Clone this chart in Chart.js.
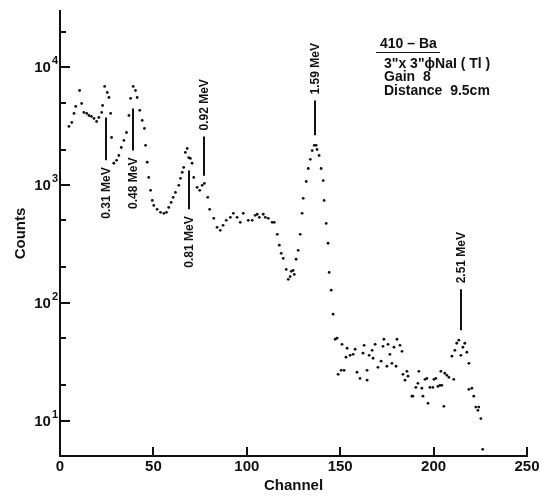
<!DOCTYPE html>
<html>
<head>
<meta charset="utf-8">
<script src="https://cdn.jsdelivr.net/npm/chart.js@4"></script>
<style>
    body { margin: 0; background: #fff; }
    #wrap { position: relative; width: 551px; height: 498px; }
    #info {
        position: absolute;
        left: 384px;
        top: 37px;
        font: bold 14px 'Liberation Sans', Arial, sans-serif;
        line-height: 13.5px;
        color: #111;
    }
    #info .title {
        display: inline-block;
        border-bottom: 1.5px solid #111;
        padding: 0 3px 1px 4px;
        margin-left: -8px;
        margin-bottom: 4px;
    }
</style>
</head>
<body>
<div id="wrap">
    <canvas id="spectrum" width="551" height="498"></canvas>
    <div id="info">
        <div class="title">410 – Ba</div>
        <div>3"x 3"ϕNaI ( Tl )</div>
        <div>Gain&nbsp; 8</div>
        <div>Distance&nbsp; 9.5cm</div>
    </div>
</div>
<script>
// spectrum points (channel, counts)
const channels = [
    4.8, 6.3, 7.5, 8.4, 10.5, 11.6, 12.8, 14.3, 15.5, 16.8,
    18.2, 19.6, 20.8, 22.3, 22.8, 23.9, 25.3, 26.2, 27.1, 27.6,
    28.8, 30.3, 31.5, 32.8, 34.2, 35.6, 36.9, 37.8, 39.2, 40.4,
    41.3, 42.7, 44.0, 45.2, 45.8, 46.7, 47.5, 48.5, 49.4, 50.2,
    52.0, 53.8, 55.6, 57.0, 58.2, 59.5, 60.6, 61.8, 63.6, 64.5,
    65.4, 66.2, 67.1, 68.1, 68.9, 69.8, 70.7, 71.6, 73.4, 74.8,
    76.1, 77.3, 79.1, 80.1, 82.3, 84.1, 85.8, 87.3, 89.0, 91.2,
    92.8, 94.8, 96.5, 98.1, 100.8, 102.9, 104.5, 105.6, 106.7, 108.8,
    109.9, 111.5, 113.6, 114.7, 116.3, 117.4, 118.4, 119.5, 121.1, 122.2,
    123.2, 123.8, 124.8, 125.4, 126.4, 127.5, 128.6, 129.6, 130.2, 131.8,
    132.9, 134.0, 135.0, 136.1, 137.1, 137.6, 138.7, 139.8, 140.9, 141.4,
    142.5, 143.5, 144.1, 145.2, 146.2, 147.3, 148.3, 148.9, 150.5, 151.0,
    152.1, 153.1, 153.7, 155.3, 156.9, 158.0, 159.0, 160.6, 162.2, 162.8,
    164.4, 164.4, 165.5, 167.1, 167.6, 168.7, 170.2, 171.9, 172.9, 173.4,
    175.0, 175.6, 176.6, 177.7, 178.8, 179.9, 180.4, 182.0, 183.1, 183.6,
    184.7, 185.7, 186.3, 188.4, 188.9, 190.5, 191.6, 192.1, 193.7, 194.3,
    195.4, 196.4, 197.0, 198.0, 199.6, 200.2, 201.2, 202.3, 203.4, 203.9,
    204.4, 205.5, 206.0, 207.1, 208.2, 209.8, 210.8, 211.4, 212.4, 213.5,
    214.6, 215.7, 216.7, 217.8, 218.9, 218.9, 220.5, 221.5, 222.6, 223.7,
    224.2, 225.3, 226.3,
];
const counts = [
    3140, 3400, 4050, 4640, 6340, 4920, 4130, 4050, 3890, 3820,
    3670, 3460, 3740, 4130, 4730, 6860, 6100, 5530, 4050, 2530,
    1530, 1620, 1780, 2080, 2390, 2790, 3890, 5430, 6860, 6340,
    5530, 4300, 3530, 3020, 2170, 1560, 1160, 900, 740, 671,
    621, 586, 574, 586, 645, 711, 785, 865, 993, 1140,
    1280, 1410, 1890, 2040, 1710, 1680, 1530, 1160, 955, 900,
    993, 1030, 785, 621, 521, 437, 412, 454, 501, 531,
    574, 531, 482, 574, 501, 501, 552, 564, 531, 564,
    531, 521, 482, 482, 381, 308, 263, 238, 192, 158,
    167, 185, 188, 174, 234, 279, 381, 574, 770, 1070,
    1380, 1650, 1960, 2170, 2170, 2000, 1780, 1380, 1090, 740,
    472, 320, 181, 128, 80, 49, 50, 24.7, 26.7, 44.4,
    26.7, 34.5, 41.1, 35.8, 36.5, 40.3, 25.7, 22.8, 37.3, 43.5,
    22.0, 26.7, 35.8, 39.5, 33.8, 44.4, 28.3, 31.9, 42.7, 49.0,
    28.9, 44.4, 36.5, 30.6, 41.9, 28.9, 49.0, 43.5, 38.7, 24.7,
    22.0, 26.2, 23.8, 16.1, 16.1, 19.1, 20.7, 26.2, 18.8, 16.1,
    22.4, 22.8, 14.0, 19.1, 19.1, 22.4, 22.8, 19.5, 19.9, 26.2,
    19.9, 13.2, 25.2, 24.2, 23.3, 35.2, 22.4, 39.5, 45.3, 48.1,
    35.8, 41.9, 45.3, 38.0, 30.6, 18.4, 18.8, 16.1, 13.0, 12.2,
    13.0, 10.4, 5.7,
];

// peak markers: energy label, channel, marker line span in counts, label side
const peakLabels = ['0.31 MeV', '0.48 MeV', '0.81 MeV', '0.92 MeV', '1.59 MeV', '2.51 MeV'];
const peakChannels = [24.5, 39.2, 68.9, 77.3, 136.6, 214.7];
const peakLineTop = [3740, 4470, 1330, 2580, 5220, 130];
const peakLineBottom = [1620, 1960, 621, 1200, 2640, 58.5];
const peakLabelSide = ['below', 'below', 'below', 'above', 'above', 'above'];

const xTicks = [0, 50, 100, 150, 200, 250];
const yTicks = [10, 20, 50, 100, 200, 500, 1000, 2000, 5000, 10000, 20000];
// decade labels as base + exponent, blank for the minor ticks
const yTickExponents = ['1', '', '', '2', '', '', '3', '', '', '4', ''];

const ink = '#111';
const fontFamily = "'Liberation Sans', Arial, sans-serif";
Chart.defaults.font.family = fontFamily;
Chart.defaults.color = ink;

const points = channels.map((c, i) => ({ x: c, y: counts[i] }));

// inward tick marks and 10^n labels, the way the original axes are drawn
const axisTicks = {
    id: 'axisTicks',
    afterDraw(chart) {
        const { ctx, chartArea } = chart;
        const xs = chart.scales.x;
        const ys = chart.scales.y;
        ctx.save();
        ctx.strokeStyle = ink;
        ctx.fillStyle = ink;
        ctx.lineWidth = 2;
        ctx.beginPath();
        yTicks.forEach((v, i) => {
            const y = Math.round(ys.getPixelForValue(v));
            const len = yTickExponents[i] ? 10 : 6;
            ctx.moveTo(chartArea.left, y);
            ctx.lineTo(chartArea.left + len, y);
        });
        xTicks.slice(1).forEach((v) => {
            const x = Math.round(xs.getPixelForValue(v));
            ctx.moveTo(x, chartArea.bottom);
            ctx.lineTo(x, chartArea.bottom - 9);
        });
        ctx.stroke();

        ctx.textBaseline = 'middle';
        ctx.textAlign = 'right';
        yTicks.forEach((v, i) => {
            const exp = yTickExponents[i];
            if (!exp) {
                return;
            }
            const y = ys.getPixelForValue(v);
            const right = chartArea.left - 2;
            ctx.font = `bold 11px ${fontFamily}`;
            const expWidth = ctx.measureText(exp).width;
            ctx.fillText(exp, right, y - 6);
            ctx.font = `bold 15px ${fontFamily}`;
            ctx.fillText('10', right - expWidth - 1, y + 1);
        });
        ctx.restore();
    },
};

const peakMarkers = {
    id: 'peakMarkers',
    afterDatasetsDraw(chart) {
        const { ctx } = chart;
        const xs = chart.scales.x;
        const ys = chart.scales.y;
        ctx.save();
        ctx.strokeStyle = ink;
        ctx.fillStyle = ink;
        ctx.lineWidth = 2;
        ctx.font = `bold 12px ${fontFamily}`;
        ctx.textBaseline = 'middle';
        peakLabels.forEach((label, i) => {
            const x = Math.round(xs.getPixelForValue(peakChannels[i]));
            const top = ys.getPixelForValue(peakLineTop[i]);
            const bottom = ys.getPixelForValue(peakLineBottom[i]);
            ctx.beginPath();
            ctx.moveTo(x, top);
            ctx.lineTo(x, bottom);
            ctx.stroke();

            ctx.save();
            if (peakLabelSide[i] === 'below') {
                ctx.translate(x + 1, bottom + 7);
                ctx.textAlign = 'right';
            } else {
                ctx.translate(x + 1, top - 6);
                ctx.textAlign = 'left';
            }
            ctx.rotate(-Math.PI / 2);
            ctx.fillText(label, 0, 0);
            ctx.restore();
        });
        ctx.restore();
    },
};

new Chart(document.getElementById('spectrum'), {
    type: 'scatter',
    data: {
        datasets: [{
            label: 'Counts',
            data: points,
            pointRadius: 1.4,
            pointBackgroundColor: ink,
            pointBorderWidth: 0,
            showLine: false,
        }],
    },
    options: {
        responsive: false,
        animation: false,
        layout: { padding: { left: 0, top: 11, right: 24, bottom: 0 } },
        plugins: {
            legend: { display: false },
            tooltip: { enabled: false },
        },
        scales: {
            x: {
                type: 'linear',
                min: 0,
                max: 250,
                afterFit: (scale) => { scale.height = 42; },
                afterBuildTicks: (scale) => {
                    scale.ticks = xTicks.map((v) => ({ value: v }));
                },
                grid: { display: false, drawTicks: false },
                border: { display: true, color: ink, width: 2 },
                ticks: {
                    padding: 2,
                    maxRotation: 0,
                    color: ink,
                    font: { size: 15, weight: 'bold' },
                },
                title: {
                    display: true,
                    text: 'Channel',
                    color: ink,
                    font: { size: 15, weight: 'bold' },
                    padding: { top: 0, bottom: 3 },
                },
            },
            y: {
                type: 'logarithmic',
                min: 5,
                max: 30000,
                afterFit: (scale) => { scale.width = 60; },
                afterBuildTicks: (scale) => {
                    scale.ticks = yTicks.map((v) => ({ value: v }));
                },
                grid: { display: false, drawTicks: false },
                border: { display: true, color: ink, width: 2 },
                ticks: { display: false },
                title: {
                    display: true,
                    text: 'Counts',
                    color: ink,
                    font: { size: 15, weight: 'bold' },
                    padding: { top: 12, bottom: 0 },
                },
            },
        },
    },
    plugins: [axisTicks, peakMarkers],
});
</script>
</body>
</html>
